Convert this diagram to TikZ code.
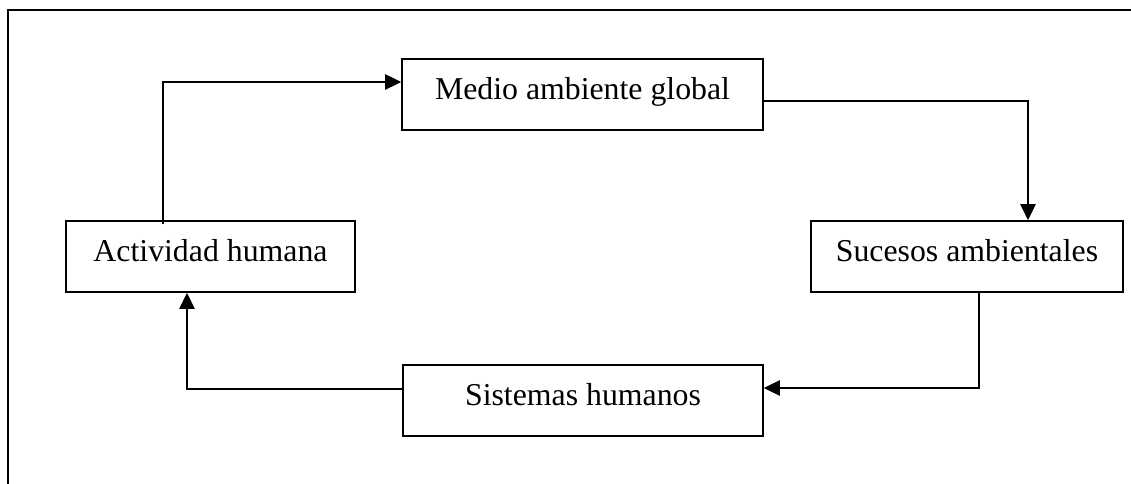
\documentclass[tikz,border=0pt]{standalone}
\usepackage{fontspec}
\setmainfont{Liberation Serif}
\usetikzlibrary{arrows.meta}
\begin{document}
\begin{tikzpicture}[x=0.75pt,y=-0.75pt,
  box/.style={draw,line width=1.2pt,rectangle,inner xsep=0pt,inner ysep=0pt,
    text height=30.4pt,text depth=22.9pt,
    font=\fontsize{23.85pt}{28pt}\selectfont},
  conn/.style={draw,line width=1.1pt,-{Triangle[length=12pt,width=11.5pt]}},
  frame/.style={draw,line width=1.3pt,line cap=rect}]
\useasboundingbox (0,0) rectangle (1131,484);
\draw[frame] (1131,10) -- (8,10) -- (8,484);
\node[box,minimum width=270.75pt] (medio) at (582.5,94.5) {Medio ambiente global};
\node[box,minimum width=216.75pt] (act) at (210.5,256.5) {Actividad humana};
\node[box,minimum width=234pt] (suc) at (967,256.5) {Sucesos ambientales};
\node[box,minimum width=270pt] (sis) at (583,400.5) {Sistemas humanos};
\draw[conn] ([xshift=-35.625pt,yshift=-3pt]act.north) |- ([yshift=9.375pt]medio.west);
\draw[conn] ([yshift=-4.875pt]medio.east) -| ([xshift=45.75pt]suc.north);
\draw[conn] ([xshift=9pt]suc.south) |- ([yshift=9.375pt]sis.east);
\draw[conn] ([yshift=8.625pt]sis.west) -| ([xshift=-17.625pt]act.south);
\end{tikzpicture}
\end{document}
